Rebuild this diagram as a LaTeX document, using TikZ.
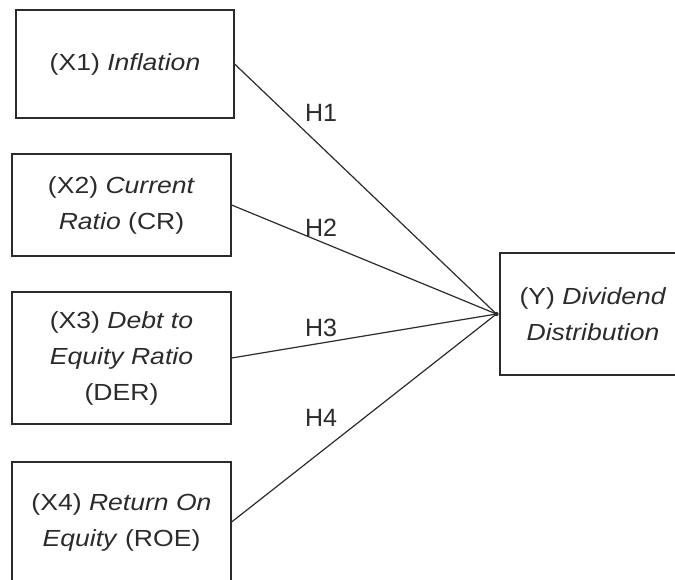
\documentclass[tikz,border=0pt]{standalone}
\usepackage{fontspec}
\usepackage{tikz}
\newfontfamily\boxfont[FakeStretch=1.14]{Liberation Sans}
\newfontfamily\hfont{Liberation Sans}
\definecolor{ink}{HTML}{2B2B2B}
\tikzset{
    var/.style={rectangle, draw=ink, text=ink, line width=1.2pt, inner sep=0pt,
    	align=center, font=\boxfont\fontsize{23.3}{36}\selectfont}
}
\tikzset{
    hyp/.style={text=ink, inner sep=0pt, font=\hfont\fontsize{25}{30}\selectfont}
}
\tikzset{
    every edge/.append style={line width=1.2pt, draw=ink}
}

\begin{document}
\begin{tikzpicture}
	\useasboundingbox (0pt,0pt) rectangle (675pt,-579pt);
	\node (x1) [var, minimum width=218pt, minimum height=108pt] at (125pt,-64pt)
		{(X1) \textit{Inflation}};
	\node (x2) [var, minimum width=219pt, minimum height=102pt] at (121.5pt,-205pt)
		{(X2) \textit{Current}\\\textit{Ratio} (CR)};
	\node (x3) [var, minimum width=219pt, minimum height=132pt] at (121.5pt,-358pt)
		{(X3) \textit{Debt to}\\\textit{Equity Ratio}\\(DER)};
	\node (x4) [var, minimum width=219pt, minimum height=120pt] at (121.5pt,-522pt)
		{(X4) \textit{Return On}\\\textit{Equity} (ROE)};
	\node (y) [var, minimum width=186pt, minimum height=122pt] at (593pt,-314pt)
		{(Y) \textit{Dividend}\\\textit{Distribution}};
	\coordinate (hub) at ([xshift=-3pt]y.west);
	
	\draw (x1.east) edge (hub); \draw (x2.east) edge (hub);
	\draw (x3.east) edge (hub); \draw (x4.east) edge (hub);
	\fill [ink] (hub) circle (2.2pt);
	
	\node (h1) [hyp] at (321pt,-113pt) {H1};
	\node (h2) [hyp] at (321pt,-228pt) {H2};
	\node (h3) [hyp] at (321pt,-328pt) {H3};
	\node (h4) [hyp] at (321pt,-418pt) {H4};
\end{tikzpicture}
\end{document}
